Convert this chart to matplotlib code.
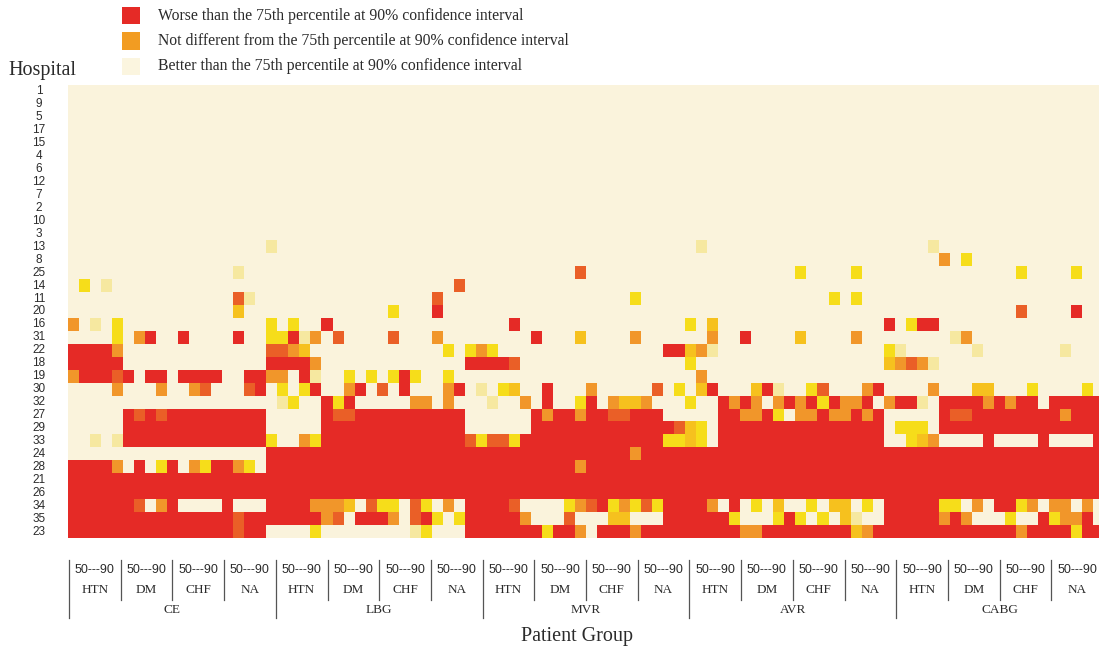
import numpy as np
import matplotlib
matplotlib.use("Agg")
import matplotlib.pyplot as plt
from matplotlib.colors import ListedColormap, BoundaryNorm
from matplotlib.patches import Rectangle

# hospitals in display order (top to bottom)
hospitals = [1, 9, 5, 17, 15, 4, 6, 12, 7, 2, 10, 3, 13, 8, 25, 14, 11, 20,
             16, 31, 22, 18, 19, 30, 32, 27, 29, 33, 24, 28, 21, 26, 34, 35, 23]

procedures = ["CE", "LBG", "MVR", "AVR", "CABG"]
proc_columns = [18, 18, 18, 20, 20]
comorbidities = ["HTN", "DM", "CHF", "NA"]
age_label = "50---90"

# rating scale, best to worst
levels = ".lygodr"
level_colors = ["#faf3dc", "#f6e8a0", "#f6dd1a", "#f6c11e", "#f1962a", "#ea5f27", "#e52a26"]

legend_labels = [
    "Worse than the 75th percentile at 90% confidence interval",
    "Not different from the 75th percentile at 90% confidence interval",
    "Better than the 75th percentile at 90% confidence interval",
]
legend_colors = ["#e52a26", "#f29c22", "#fbf5df"]

# one row per hospital; chunks are CE LBG MVR AVR CABG
ratings = [
    ".................. .................. .................. .................... ....................",
    ".................. .................. .................. .................... ....................",
    ".................. .................. .................. .................... ....................",
    ".................. .................. .................. .................... ....................",
    ".................. .................. .................. .................... ....................",
    ".................. .................. .................. .................... ....................",
    ".................. .................. .................. .................... ....................",
    ".................. .................. .................. .................... ....................",
    ".................. .................. .................. .................... ....................",
    ".................. .................. .................. .................... ....................",
    ".................. .................. .................. .................... ....................",
    ".................. .................. .................. .................... ....................",
    ".................. l................. .................. ...l................ ....l...............",
    ".................. .................. .................. .................... .....o.y............",
    "...............l.. .................. ..........d....... ............y....y.. ............y....y..",
    ".y.l.............. .................d .................. .................... ....................",
    "...............dl. ...............d.. ...............y.. ...............y.y.. ....................",
    "...............g.. ...........y...r.. .................. .................... ............d....r..",
    "o.l.y............. y.y..r............ ....r............. ..y.g............... r.yrr...............",
    "....y.or..r....r.. yyrlo.d....d...o.. ......r...g....o.. ....o..r....g....o.. ......lo............",
    "rrrro............. ddog............y. yoy............... rrgol............... yl......l.......l...",
    "rrrrr............. rrrro............. rrrrd............. ..y................. godol...............",
    "orrrdr.rr.rrrr..rr oo.rl..y.y.yry..y. .................. ...o................ ....................",
    "....o...o..od...dr .y.yr..or.d.r...or .l.yg..r...o.....d .y.gr...grl..yd...or ....o...gg...y....y.",
    ".................. .ly..ryr.....oo.o. ..l..o.r..yr.oggo. ..y..roro.ororyroor. orrl.rrrrororr.rrrrr",
    ".....rdrdrrrrrrrrr .....rddrrrrrrrrrr ......rorrorrddrrr .....rroory.oorooror .....rddrrrrrrrrorrr",
    ".....rrrrrrrrrrrrr .....rrrrrrrrrrrrr ......rrrrrrrrrrrr rdgy.rrrrrrrrrrrrrrr .yyy.rrrrrrrrrrrrrrr",
    "..l.lrrrrrrrrrrrrr y..oyrrrrrrrrrrrrr dyddyrrrrrrrrrrrrr yygy.rrrrrrrrrrrrrrr ..ygo....r....r....r",
    ".................. rrrrrrrrrrrrrrrrrr rrrrrrrrrrrrrrrorr rrrrrrrrrrrrrrrrrrrr rrrrrrrrrrrrrrrrrrrr",
    "rrrro.r.yr.oyrroy. rrrrrrrrrrrrrrrrrr rrrrrrrrrrorrrrrrr rrrrrrrrrrrrrrrrrrrr rrrrrrrrrrrrrrrrrrrr",
    "rrrrrrrrrrrrrrrrrr rrrrrrrrrrrrrrrrrr rrrrrrrrrrrrrrrrrr rrrrrrrrrrrrrrrrrrrr rrrrrrrrrrrrrrrrrrrr",
    "rrrrrrrrrrrrrrrrrr rrrrrrrrrrrrrrrrrr rrrrrrrrrrrrrrrrrr rrrrrrrrrrrrrrrrrrrr rrrrrrrrrrrrrrrrrrrr",
    "rrrrrrd.or....r... rrrrooog.dyy.dy.o. rrrrd....yodryoydy rrrro.r.y.g..y.gg.y. rrrrryy.o.rryo.oo.o.",
    "rrrrrrrrrrrrrrrdrr rrrrrod.rrro.dry.y rrrrro...d...gg... rrrrrry...yry.y.gl.. rrrrroro...y..ryoor.",
    "rrrrrrrrrrrrrrrdrr ....y........ly... rrrrrrryrro.rrrorr rrrrrrroorrrrrrrrgor rrrrrrrrrrrrorrrryrr",
]


def parse_row(row):
    cells = []
    for chunk, width in zip(row.split(), proc_columns):
        cells.extend(levels.index(c) for c in chunk.ljust(width, ".")[:width])
    return cells


grid = np.array([parse_row(r) for r in ratings])
nrows, ncols = grid.shape

W, H = 1099, 650
fig = plt.figure(figsize=(W / 100, H / 100), dpi=100)
fig.patch.set_facecolor("white")


def fx(px):
    return px / W


def fy(py):
    return 1 - py / H


serif = ["Liberation Serif", "DejaVu Serif"]
narrow = ["Liberation Sans Narrow", "Liberation Sans", "DejaVu Sans"]
ink = "#2b2b2b"

left, top, bottom, cell_w = 68.2, 85, 538, 11.02
ax = fig.add_axes([fx(left), fy(bottom), fx(W) - fx(left), (bottom - top) / H])
cmap = ListedColormap(level_colors)
norm = BoundaryNorm(np.arange(len(levels) + 1) - 0.5, cmap.N)
ax.imshow(grid, cmap=cmap, norm=norm, aspect="auto", interpolation="nearest",
          extent=(0, ncols, nrows, 0))
ax.set_xlim(0, (W - left) / cell_w)
ax.set_ylim(nrows, 0)
ax.axis("off")

# hospital ids down the left side
lab_x = (39 - left) / (W - left)
for i, h in enumerate(hospitals):
    ax.text(lab_x, i + 0.5, str(h), transform=ax.get_yaxis_transform(),
            ha="center", va="center", fontsize=8.5, family=narrow, color=ink)

fig.text(fx(8), fy(70), "Hospital", ha="left", va="center", fontsize=14.5,
         family=serif, color=ink)

# legend
for k, (lab, col) in enumerate(zip(legend_labels, legend_colors)):
    y0 = 7 + 25.5 * k
    fig.add_artist(Rectangle((fx(122), fy(y0 + 17)), 18 / W, 17 / H,
                             transform=fig.transFigure, facecolor=col, edgecolor="none"))
    fig.text(fx(158), fy(y0 + 8.5), lab, ha="left", va="center", fontsize=11.3,
             family=serif, color=ink)

# patient group labels under the map
x0, gw = 69, 51.7
line_top, short_bot, long_bot = 560, 600, 618
ngroups = len(procedures) * len(comorbidities)
for g in range(ngroups + 1):
    xs = x0 + g * gw
    bot = long_bot if g % len(comorbidities) == 0 else short_bot
    fig.add_artist(plt.Line2D([fx(xs), fx(xs)], [fy(line_top), fy(bot)],
                              transform=fig.transFigure, color="#555555", lw=0.9))
for g in range(ngroups):
    xc = x0 + (g + 0.5) * gw
    fig.text(fx(xc), fy(570), age_label, ha="center", va="center", fontsize=9,
             family=narrow, color=ink)
    fig.text(fx(xc), fy(590), comorbidities[g % len(comorbidities)], ha="center",
             va="center", fontsize=9.5, family=serif, color=ink)
for p, name in enumerate(procedures):
    xc = x0 + (p + 0.5) * gw * len(comorbidities)
    fig.text(fx(xc), fy(610), name, ha="center", va="center", fontsize=9.5,
             family=serif, color=ink)

fig.text(fx(577), fy(636), "Patient Group", ha="center", va="center", fontsize=14.5,
         family=serif, color=ink)

fig.savefig("out.png", dpi=100)
